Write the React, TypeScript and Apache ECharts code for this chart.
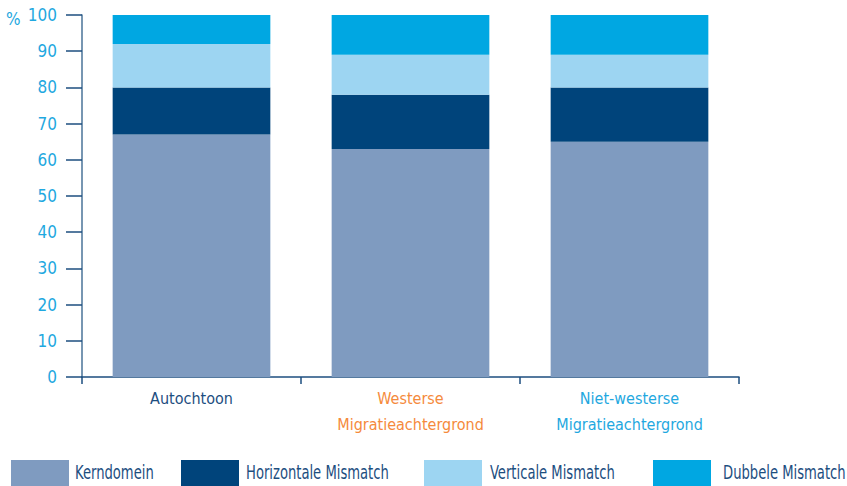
import React, { useEffect, useRef } from "react";
import * as echarts from "echarts";

const categories = ["Autochtoon", "Westerse\nMigratieachtergrond", "Niet-westerse\nMigratieachtergrond"];
const categoryColors = ["#1d4e7f", "#f58a3c", "#1fa8e0"];
const seriesNames = ["Kerndomein", "Horizontale Mismatch", "Verticale Mismatch", "Dubbele Mismatch"];
const seriesColors = ["#7f9bc0", "#00447b", "#9dd5f2", "#00a7e2"];
const kerndomein = [67, 63, 65];
const horizontale = [13, 15, 15];
const verticale = [12, 11, 9];
const dubbele = [8, 11, 11];
const legendLefts = [11, 181, 424, 653];
const legendTextLefts = [75, 246, 490, 723];

const FONT = "'DejaVu Sans Condensed', 'Noto Sans', sans-serif";

export default function App() {
  const ref = useRef<HTMLDivElement>(null);
  useEffect(() => {
    const chart = echarts.init(ref.current!, undefined, { renderer: "svg" });
    const values = [kerndomein, horizontale, verticale, dubbele];
    const legendGraphics: any[] = [];
    seriesNames.forEach((n, i) => {
      legendGraphics.push({
        type: "rect",
        x: legendLefts[i],
        y: 460,
        shape: { x: 0, y: 0, width: 58, height: 26 },
        style: { fill: seriesColors[i] },
      });
      legendGraphics.push({
        type: "text",
        x: legendTextLefts[i],
        y: 472,
        scaleX: 0.77,
        style: {
          text: n,
          fontSize: 19,
          fontFamily: FONT,
          fill: "#1d4e7f",
          verticalAlign: "middle",
          align: "left",
        },
      });
    });
    chart.setOption({
      animation: false,
      textStyle: { fontFamily: FONT },
      grid: { left: 82, right: 108, top: 15, bottom: 109, containLabel: false },
      xAxis: {
        type: "category",
        data: categories.map((c, i) => ({ value: c, textStyle: { color: categoryColors[i] } })),
        axisLine: { lineStyle: { color: "#1d4e7f", width: 1.5 } },
        axisTick: { show: true, length: 7, lineStyle: { color: "#1d4e7f", width: 1.5 } },
        axisLabel: { fontSize: 16, fontFamily: FONT, margin: 8, lineHeight: 26, interval: 0 },
      },
      yAxis: {
        type: "value",
        min: 0,
        max: 100,
        interval: 10,
        axisLine: { show: true, lineStyle: { color: "#4a7398", width: 1.5 } },
        axisTick: { show: true, length: 16, lineStyle: { color: "#1d4e7f", width: 1.5 } },
        axisLabel: { fontSize: 17, color: "#1fa8e0", fontFamily: FONT, margin: 25 },
        splitLine: { show: false },
      },
      graphic: [
        {
          type: "text",
          x: 6,
          y: 19,
          style: { text: "%", fontSize: 17, fill: "#1fa8e0", fontFamily: FONT, verticalAlign: "middle" },
        },
        ...legendGraphics,
      ],
      series: seriesNames.map((n, i) => ({
        name: n,
        type: "bar",
        stack: "total",
        barWidth: "72%",
        itemStyle: { color: seriesColors[i] },
        data: values[i],
      })),
    });
    return () => chart.dispose();
  }, []);
  return <div ref={ref} style={{ width: 847, height: 486, position: "absolute", left: 0, top: 0 }} />;
}
